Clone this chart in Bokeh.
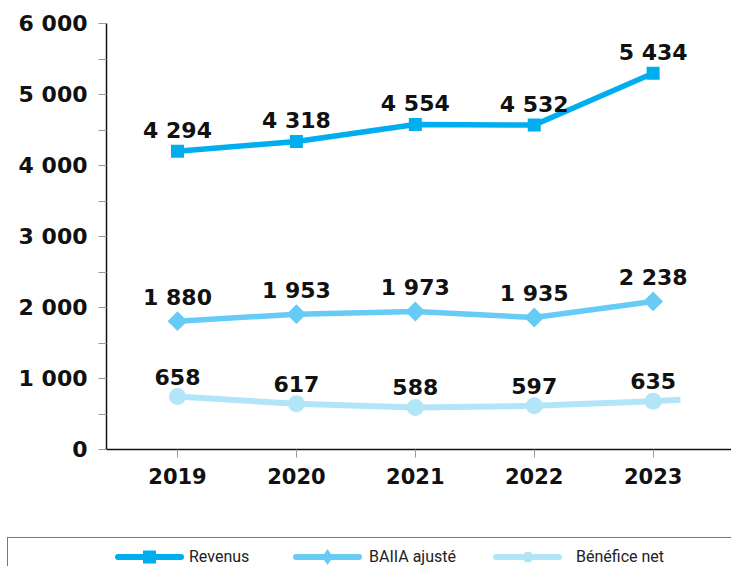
from bokeh.plotting import figure
from bokeh.layouts import column
from bokeh.models import Range1d, FixedTicker, Div
from bokeh.core.properties import value
from bokeh.embed import file_html
from bokeh.resources import INLINE

# ---- data ----
years = [2019, 2020, 2021, 2022, 2023]
revenus = [4201, 4338, 4577, 4570, 5300]
baiia = [1807, 1906, 1944, 1859, 2085]
benefice = [746, 645, 592, 615, 680]
benefice_tail_x = [2023, 2023.23]
benefice_tail = [680, 700]
revenus_labels = ["4 294", "4 318", "4 554", "4 532", "5 434"]
baiia_labels = ["1 880", "1 953", "1 973", "1 935", "2 238"]
benefice_labels = ["658", "617", "588", "597", "635"]
y_ticks = [0, 1000, 2000, 3000, 4000, 5000, 6000]
y_minor = [500, 1500, 2500, 3500, 4500, 5500]
y_tick_labels = ["0", "1 000", "2 000", "3 000", "4 000", "5 000", "6 000"]
series_names = ["Revenus", "BAIIA ajusté", "Bénéfice net"]

C_REV = "#00AEEF"
C_BAI = "#66CCF5"
C_BEN = "#B3E5F9"
FONT = "DejaVu Sans"

p = figure(width=731, height=537,
           x_range=Range1d(2018.403, 2023.659), y_range=Range1d(0, 6000),
           output_backend="svg", toolbar_location=None,
           min_border_left=106, min_border_right=0,
           min_border_top=23, min_border_bottom=88)
p.outline_line_color = None
p.grid.visible = False

# axes
p.xaxis.ticker = FixedTicker(ticks=years, minor_ticks=[])
p.xaxis.major_label_overrides = {y: str(y) for y in years}
p.yaxis.ticker = FixedTicker(ticks=y_ticks, minor_ticks=y_minor)
p.yaxis.major_label_overrides = {t: l for t, l in zip(y_ticks, y_tick_labels)}
for ax in (p.xaxis, p.yaxis):
    ax.axis_line_color = "#111111"
    ax.axis_line_width = 1.5
    ax.major_tick_line_color = "#999999"
    ax.minor_tick_line_color = "#999999"
    ax.major_tick_in = 0
    ax.major_tick_out = 8
    ax.minor_tick_in = 0
    ax.minor_tick_out = 8
    ax.major_label_text_font = FONT
    ax.major_label_text_font_style = "bold"
    ax.major_label_text_color = "#111111"
p.xaxis.major_label_text_font_size = "21px"
p.yaxis.major_label_text_font_size = "22px"
p.xaxis.major_label_standoff = 10
p.yaxis.major_label_standoff = 11

# series
p.line(benefice_tail_x, benefice_tail, line_color=C_BEN, line_width=6)
p.line(years, benefice, line_color=C_BEN, line_width=6)
p.scatter(years, benefice, marker="circle", size=17, fill_color=C_BEN, line_color=None)

p.line(years, baiia, line_color=C_BAI, line_width=5.5)
p.scatter(years, baiia, marker="square", angle=0.785398, size=14, fill_color=C_BAI, line_color=None)

p.line(years, revenus, line_color=C_REV, line_width=5.5)
p.scatter(years, revenus, marker="square", size=13, fill_color=C_REV, line_color=None)

for vals, labs, off in ((revenus, revenus_labels, -21),
                        (baiia, baiia_labels, -24),
                        (benefice, benefice_labels, -20)):
    p.text(x=years, y=vals, text=labs, text_align="center", text_baseline="alphabetic",
           y_offset=off, text_font=value(FONT), text_font_style="bold",
           text_font_size="22px", text_color="#111111")

# legend strip (HTML, box continues past the window edge like the reference)
glyphs = [
    f'<rect x="30" y="1.5" width="13" height="13" fill="{C_REV}"/>',
    f'<polygon points="36.5,0 42,8 36.5,16 31,8" fill="{C_BAI}"/>',
    f'<circle cx="37" cy="8" r="5.5" fill="{C_BEN}"/>',
]
colors = [C_REV, C_BAI, C_BEN]
glyph_left = [113, 291, 491]
text_left = [189, 369, 576]
parts = ['<div style="position:absolute;left:7px;top:0;width:740px;height:40px;'
         'border-top:1.5px solid #777;border-left:1.5px solid #777;"></div>']
for name, col, gm, gl, tl in zip(series_names, colors, glyphs, glyph_left, text_left):
    parts.append(
        f'<svg width="74" height="16" style="position:absolute;left:{gl}px;top:12px;overflow:visible">'
        f'<line x1="5" y1="8" x2="68" y2="8" stroke="{col}" stroke-width="6" stroke-linecap="round"/>'
        f'{gm}</svg>')
    parts.append(
        f'<span style="position:absolute;left:{tl}px;top:10px;line-height:20px;'
        f'font-family:Roboto,sans-serif;font-size:16px;color:#222;white-space:nowrap">{name}</span>')
html = '<div style="position:relative;width:731px;height:29px;overflow:hidden">' + "".join(parts) + '</div>'
legend = Div(text=html, width=731, height=29, margin=0)

layout = column(p, legend, spacing=0)
open("out.html", "w").write(file_html(layout, INLINE))
